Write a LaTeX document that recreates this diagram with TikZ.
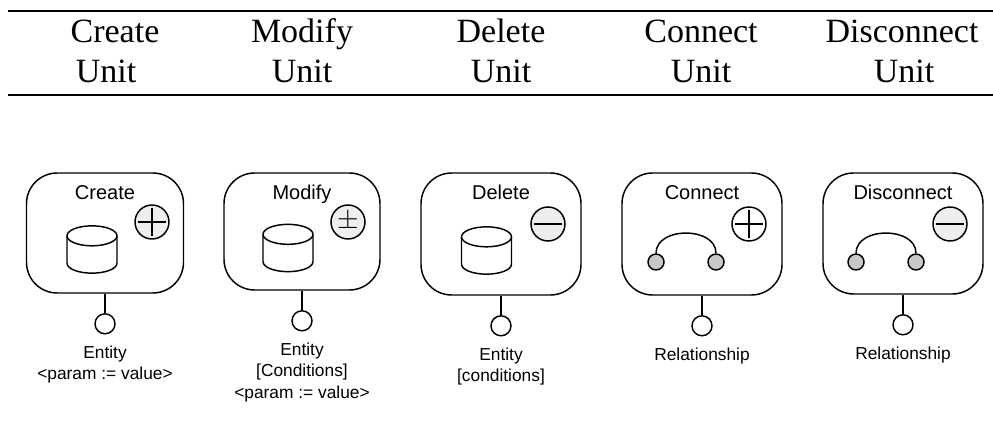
\documentclass[tikz,border=0pt]{standalone}
\usepackage{amsmath}
\usepackage{fontspec}
\setmainfont{Liberation Serif}
\setsansfont{Liberation Sans}
\usetikzlibrary{positioning,shapes,calc}
\definecolor{mygray}{RGB}{238,238,238}
\definecolor{mydot}{RGB}{200,200,200}

\begin{document}
\begin{tikzpicture}[x=0.75pt,y=-0.75pt,line width=1.1pt,
    headtext/.style={font=\fontsize{25.5}{30}\selectfont,inner sep=0pt,anchor=base},
    unitbox/.style={draw,rounded corners=23pt,inner sep=0pt},
    unittext/.style={font=\sffamily\fontsize{15}{18}\selectfont,inner sep=0pt,anchor=base},
    dbpic/.pic={
      \draw (0pt,10.25pt) ellipse [x radius=18.75pt,y radius=7.5pt];
      \draw (-18.75pt,10.25pt) -- (-18.75pt,-10.25pt)
        arc [start angle=180,end angle=360,x radius=18.75pt,y radius=7.5pt] -- (18.75pt,10.25pt);
    },
    signnode/.style={draw,circle,inner sep=0pt,minimum size=25.5pt},
    portnode/.style={draw,circle,inner sep=0pt,minimum size=15pt,below=14.5pt of #1},
    endnode/.style={draw,circle,fill=mydot,inner sep=0pt,minimum size=12pt},
    paramtext/.style={font=\sffamily\fontsize{13}{16}\selectfont,inner sep=0pt,align=center,anchor=north}
  ]
  \useasboundingbox (0,0) rectangle (993,438);

  % the table head
  \coordinate (ruleal) at (8,11);
  \coordinate (rulear) at (993,11);
  \coordinate (rulebl) at (8,95);
  \coordinate (rulebr) at (993,95);
  \draw[line width=1.9pt] (ruleal) -- (rulear);
  \draw[line width=1.9pt] (rulebl) -- (rulebr);
  \foreach \i/\x/\u/\t in {create/115/106/Create,modify/302/302/Modify,delete/501/501/Delete,
      connect/701/701/Connect,disconnect/902/904/Disconnect} {
    \node[headtext] (head\i) at (\x,43) {\t};
    \node[headtext] (unit\i) at (\u,83) {Unit};
  }

  % the units
  \foreach \i/\x/\y/\w/\h/\t in {create/105/233/157/120/Create,modify/302/231.5/156/117/Modify,
      delete/501/234/160/122/Delete,connect/702/234/160/122/Connect,
      disconnect/903/233.5/160/121/Disconnect} {
    \node[unitbox,minimum width=\w*0.75pt,minimum height=\h*0.75pt] (\i) at (\x,\y) {};
    \node[unittext] (title\i) at ([yshift=-20.25pt]\i.north) {\t};
    \node[portnode=\i] (port\i) {};
    \draw (\i) -- (port\i);
  }

  % the data sources
  \pic (dbcreate) at (92,249.5) {dbpic};
  \pic (dbmodify) at (288,248) {dbpic};
  \pic (dbdelete) at (486.5,250.5) {dbpic};

  % the relationships
  \node[endnode] (ca) at (656,262) {};
  \node[endnode] (cb) at (716,262) {};
  \node[endnode] (da) at (856,262) {};
  \node[endnode] (db) at (916,262) {};
  \draw (ca.north) .. controls +(0,-27) and +(0,-27) .. (cb.north);
  \draw (da.north) .. controls +(0,-27) and +(0,-27) .. (db.north);

  % the signs
  \node[signnode,fill=mygray] (signcreate) at (152,222) {};
  \node[signnode,fill=mygray,font=\fontsize{20}{20}\selectfont] (signmodify) at (348,222) {$\pm$};
  \node[signnode,fill=mygray] (signdelete) at (548,224) {};
  \node[signnode] (signconnect) at (749,224) {};
  \node[signnode,fill=mygray] (signdisconnect) at (950,224) {};
  \foreach \i in {create,delete,connect,disconnect}
    \draw[line width=0.8pt] ([xshift=2.5pt]sign\i.west) -- ([xshift=-2.5pt]sign\i.east);
  \foreach \i in {create,connect}
    \draw[line width=0.8pt] ([yshift=-2.5pt]sign\i.north) -- ([yshift=2.5pt]sign\i.south);

  % the labels
  \node[paramtext,below=8pt of portcreate] (lcreate) {Entity\\{<}param := value{>}};
  \node[paramtext,below=8pt of portmodify] (lmodify) {Entity\\{[}Conditions]\\{<}param := value{>}};
  \node[paramtext,below=8pt of portdelete] (ldelete) {Entity\\{[}conditions]};
  \node[paramtext,below=8pt of portconnect] (lconnect) {Relationship};
  \node[paramtext,below=8pt of portdisconnect] (ldisconnect) {Relationship};
\end{tikzpicture}
\end{document}
